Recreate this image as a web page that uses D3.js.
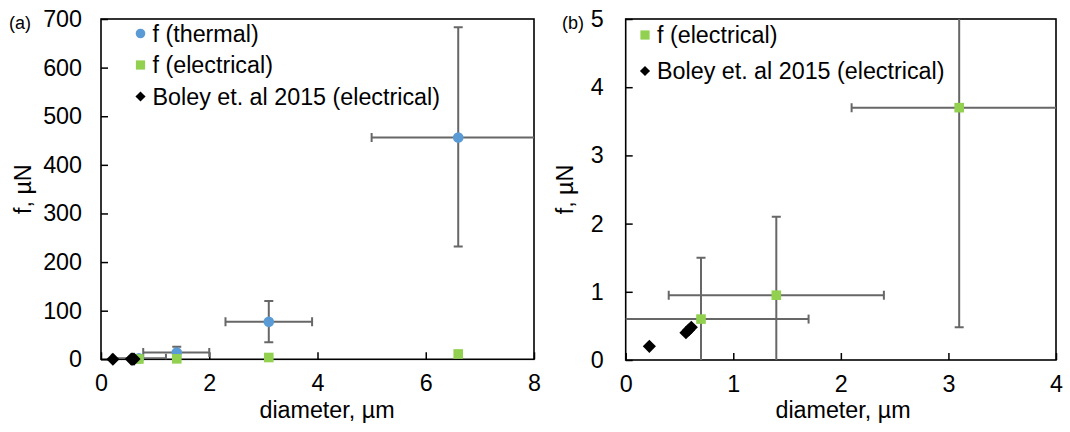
<!DOCTYPE html>
<html>
<head>
<meta charset="utf-8">
<script src="https://cdn.jsdelivr.net/npm/d3@7"></script>
<style>
  body { margin: 0; background: #fff; }
  svg { display: block; font-family: "Liberation Sans", Arial, sans-serif; }
</style>
</head>
<body>
<div id="chart"></div>
<script>
// thermal estimate (blue circles), only in panel a
const thermalD    = [0.7, 1.4, 3.1, 6.6];
const thermalF    = [2, 14, 77, 456];
const thermalDLo  = [0.2, 0.78, 2.3, 5.0];
const thermalDHi  = [1.2, 2.0, 3.9, 8.6];
const thermalFLo  = [null, 5, 35, 232];
const thermalFHi  = [null, 26, 120, 683];

// electrical estimate (green squares)
const elecD   = [0.7, 1.4, 3.1, 6.6];
const elecF   = [0.6, 0.95, 3.7, 11];
const elecDLo = [-0.5, 0.4, 2.1, null];
const elecDHi = [1.7, 2.4, 4.6, null];
const elecFLo = [-0.5, -0.5, 0.48, null];
const elecFHi = [1.5, 2.1, 5.6, null];

// Boley et. al 2015 (black diamonds)
const boleyD = [0.22, 0.56, 0.585, 0.61];
const boleyF = [0.2, 0.40, 0.44, 0.48];

const ticksA_x = [0, 2, 4, 6, 8];
const ticksA_y = [0, 100, 200, 300, 400, 500, 600, 700];
const ticksB_x = [0, 1, 2, 3, 4];
const ticksB_y = [0, 1, 2, 3, 4, 5];

const BLUE = "#5b9bd5", GREEN = "#92d050", ERR = "#676767";
const FS = 23.3;

const svg = d3.select("#chart").append("svg")
    .attr("width", 1070)
    .attr("height", 432);

function rows(d, f, dLo, dHi, fLo, fHi) {
    return d.map((v, i) => ({
        d: v, f: f[i],
        dLo: dLo ? dLo[i] : null, dHi: dHi ? dHi[i] : null,
        fLo: fLo ? fLo[i] : null, fHi: fHi ? fHi[i] : null
    }));
}

function panel(opt) {
    const x = d3.scaleLinear().domain(opt.xDomain).range([opt.left, opt.right]);
    const y = d3.scaleLinear().domain(opt.yDomain).range([opt.bottom, opt.top]);
    const g = svg.append("g");

    g.append("clipPath").attr("id", opt.id + "-clip")
        .append("rect")
        .attr("x", opt.left).attr("y", opt.top)
        .attr("width", opt.right - opt.left).attr("height", opt.bottom - opt.top);

    // axes with inward ticks
    const fmt = d3.format("~g");
    const xAxis = d3.axisBottom(x).tickValues(opt.xTicks).tickFormat(fmt).tickSize(-7).tickPadding(15);
    const yAxis = d3.axisLeft(y).tickValues(opt.yTicks).tickFormat(fmt).tickSize(-7).tickPadding(opt.yPad);

    g.append("g").attr("transform", `translate(0,${opt.bottom})`).call(xAxis)
        .call(a => a.select(".domain").remove());
    g.append("g").attr("transform", `translate(${opt.left},0)`).call(yAxis)
        .call(a => a.select(".domain").remove());
    g.selectAll(".tick line").attr("stroke", "#000").attr("stroke-width", 1.5);
    g.selectAll(".tick text").attr("font-size", FS).attr("fill", "#000")
        .attr("font-family", "Liberation Sans, Arial, sans-serif");

    g.append("rect")
        .attr("x", opt.left).attr("y", opt.top)
        .attr("width", opt.right - opt.left).attr("height", opt.bottom - opt.top)
        .attr("fill", "none").attr("stroke", "#000").attr("stroke-width", 1.6);

    // error bars
    const eg = g.append("g").attr("clip-path", `url(#${opt.id}-clip)`)
        .attr("stroke", ERR).attr("stroke-width", 2).attr("fill", "none");
    const cap = 4.5;
    opt.errors.forEach(r => {
        if (r.dLo != null) {
            eg.append("line").attr("x1", x(r.dLo)).attr("x2", x(r.dHi))
                .attr("y1", y(r.f)).attr("y2", y(r.f));
            [r.dLo, r.dHi].forEach(v => eg.append("line")
                .attr("x1", x(v)).attr("x2", x(v))
                .attr("y1", y(r.f) - cap).attr("y2", y(r.f) + cap));
        }
        if (r.fLo != null) {
            eg.append("line").attr("x1", x(r.d)).attr("x2", x(r.d))
                .attr("y1", y(r.fLo)).attr("y2", y(r.fHi));
            [r.fLo, r.fHi].forEach(v => eg.append("line")
                .attr("x1", x(r.d) - cap).attr("x2", x(r.d) + cap)
                .attr("y1", y(v)).attr("y2", y(v)));
        }
    });

    // markers
    if (opt.thermal) {
        g.append("g").selectAll("circle").data(opt.thermal).join("circle")
            .attr("cx", r => x(r.d)).attr("cy", r => y(r.f)).attr("r", 5.3)
            .attr("fill", BLUE);
    }
    g.append("g").selectAll("rect").data(opt.elec).join("rect")
        .attr("x", r => x(r.d) - 4.8).attr("y", r => y(r.f) - 4.8)
        .attr("width", 9.6).attr("height", 9.6).attr("fill", GREEN);
    g.append("g").selectAll("path").data(opt.boley).join("path")
        .attr("d", d3.symbol(d3.symbolDiamond2, 110))
        .attr("transform", r => `translate(${x(r.d)},${y(r.f)})`)
        .attr("fill", "#000");

    // legend
    const lg = g.append("g").attr("font-size", FS);
    opt.legend.forEach((item, i) => {
        const ly = opt.legY + i * opt.legStep;
        if (item.type === "circle") {
            lg.append("circle").attr("cx", opt.legX).attr("cy", ly).attr("r", 4.8).attr("fill", BLUE);
        } else if (item.type === "square") {
            lg.append("rect").attr("x", opt.legX - 4.6).attr("y", ly - 4.6)
                .attr("width", 9.2).attr("height", 9.2).attr("fill", GREEN);
        } else {
            lg.append("path").attr("d", d3.symbol(d3.symbolDiamond2, 65))
                .attr("transform", `translate(${opt.legX},${ly})`).attr("fill", "#000");
        }
        lg.append("text").attr("x", opt.legX + 12).attr("y", ly).attr("dy", "0.36em")
            .text(item.label);
    });

    // titles
    g.append("text").attr("x", opt.xTitleX).attr("y", 418)
        .attr("text-anchor", "middle").attr("font-size", FS).text("diameter, µm");
    g.append("text")
        .attr("transform", `translate(${opt.yTitleX},${(opt.top + opt.bottom) / 2}) rotate(-90)`)
        .attr("text-anchor", "middle").attr("font-size", FS).text("f, µN");
    g.append("text").attr("x", opt.tagX).attr("y", 29).attr("font-size", 18).text(opt.tag);
}

panel({
    id: "pa", tag: "(a)", tagX: 9,
    left: 101, right: 534, top: 19, bottom: 359.3,
    xDomain: [0, 8], yDomain: [0, 700],
    xTicks: ticksA_x, yTicks: ticksA_y, yPad: 19,
    errors: rows(thermalD, thermalF, thermalDLo, thermalDHi, thermalFLo, thermalFHi),
    thermal: rows(thermalD, thermalF),
    elec: rows(elecD, elecF),
    boley: rows(boleyD, boleyF),
    legX: 140.5, legY: 33.5, legStep: 31.5,
    legend: [
        { type: "circle", label: "f (thermal)" },
        { type: "square", label: "f (electrical)" },
        { type: "diamond", label: "Boley et. al 2015 (electrical)" }
    ],
    xTitleX: 327, yTitleX: 31
});

panel({
    id: "pb", tag: "(b)", tagX: 562,
    left: 625.7, right: 1056, top: 19, bottom: 360,
    xDomain: [0, 4], yDomain: [0, 5],
    xTicks: ticksB_x, yTicks: ticksB_y, yPad: 22,
    errors: rows(elecD, elecF, elecDLo, elecDHi, elecFLo, elecFHi),
    thermal: null,
    elec: rows(elecD, elecF),
    boley: rows(boleyD, boleyF),
    legX: 645, legY: 35, legStep: 36,
    legend: [
        { type: "square", label: "f (electrical)" },
        { type: "diamond", label: "Boley et. al 2015 (electrical)" }
    ],
    xTitleX: 843, yTitleX: 573
});
</script>
</body>
</html>
